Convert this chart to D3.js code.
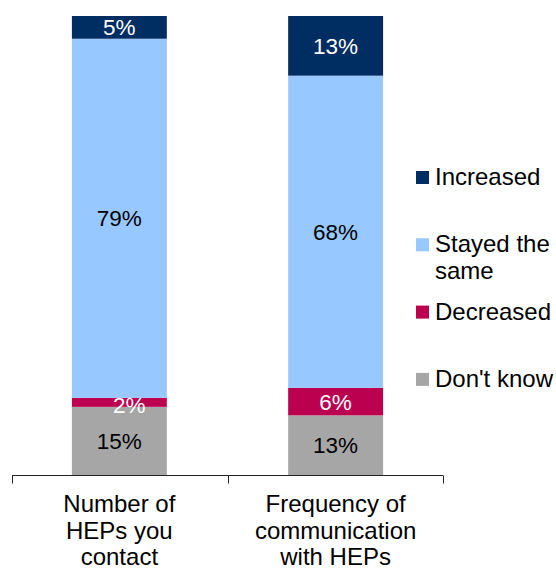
<!DOCTYPE html>
<html>
<head>
<meta charset="utf-8">
<script src="https://cdn.jsdelivr.net/npm/d3@7"></script>
<style>
  html, body { margin: 0; padding: 0; background: #fff; }
  svg { display: block; font-family: "Liberation Sans", Arial, sans-serif; }
</style>
</head>
<body>
<svg id="chart" width="556" height="570"></svg>
<script>
// Survey answers: how things changed
const categories = [["Number of", "HEPs you", "contact"], ["Frequency of", "communication", "with HEPs"]];
const seriesNames = ["Don't know", "Decreased", "Stayed the same", "Increased"];
const dontKnow = [15, 13];
const decreased = [2, 6];
const stayedSame = [79, 68];
const increased = [5, 13];
const legendItems = ["Increased", "Stayed the same", "Decreased", "Don't know"];
const legendLines = { "Stayed the same": ["Stayed the", "same"] };

const colors = {
  "Increased": "#002D62",
  "Stayed the same": "#97C8FF",
  "Decreased": "#BC0050",
  "Don't know": "#A6A6A6"
};
const labelColors = {
  "Increased": "#ffffff",
  "Stayed the same": "#000000",
  "Decreased": "#ffffff",
  "Don't know": "#000000"
};

const svg = d3.select("#chart");
const valueFont = 22.5;
const textFont = 24;

const rows = categories.map((c, i) => ({
  key: c.join(" "),
  lines: c,
  "Don't know": dontKnow[i],
  "Decreased": decreased[i],
  "Stayed the same": stayedSame[i],
  "Increased": increased[i]
}));

// 100% stacked layout
const stack = d3.stack().keys(seriesNames).offset(d3.stackOffsetExpand);
const stacked = stack(rows);

const x = d3.scaleBand()
  .domain(rows.map(d => d.key))
  .range([12, 443])
  .paddingInner(0.561)
  .paddingOuter(0.277);

const y = d3.scaleLinear().domain([0, 1]).range([475, 16]);

const layers = svg.append("g").selectAll("g")
  .data(stacked)
  .join("g")
  .attr("fill", d => colors[d.key]);

layers.selectAll("rect")
  .data(d => d.map(p => Object.assign(p, { series: d.key })))
  .join("rect")
  .attr("x", d => x(d.data.key))
  .attr("width", x.bandwidth())
  .attr("y", d => y(d[1]))
  .attr("height", d => y(d[0]) - y(d[1]));

// value labels in the middle of each segment
layers.selectAll("text")
  .data(d => d)
  .join("text")
  .attr("x", d => {
    const small = (y(d[0]) - y(d[1])) < 14;
    return x(d.data.key) + x.bandwidth() / 2 + (small ? 10 : 0);
  })
  .attr("y", d => (y(d[0]) + y(d[1])) / 2 + (y(d[0]) - y(d[1]) < 14 ? 2.5 : 0))
  .attr("dy", "0.36em")
  .attr("text-anchor", "middle")
  .attr("font-size", valueFont)
  .attr("fill", d => labelColors[d.series])
  .text(d => d.data[d.series] + "%");

// category axis with ticks between categories
const axisG = svg.append("g").attr("stroke", "#222").attr("stroke-width", 1);
const [r0, r1] = x.range();
const step = x.step();
const axisY = y(0) + 0.5;
axisG.append("line").attr("x1", r0).attr("x2", r1).attr("y1", axisY).attr("y2", axisY);
const tickXs = [r0, r0 + x.paddingOuter() * step + x.bandwidth() + x.paddingInner() * step / 2, r1];
tickXs.forEach(tx => {
  axisG.append("line")
    .attr("x1", Math.round(tx) + 0.5).attr("x2", Math.round(tx) + 0.5)
    .attr("y1", axisY).attr("y2", axisY + 8);
});

const catLabels = svg.append("g")
  .selectAll("text")
  .data(rows)
  .join("text")
  .attr("text-anchor", "middle")
  .attr("font-size", textFont)
  .attr("fill", "#000")
  .attr("x", d => x(d.key) + x.bandwidth() / 2)
  .attr("y", 512);
catLabels.selectAll("tspan")
  .data(d => d.lines)
  .join("tspan")
  .attr("x", function () { return d3.select(this.parentNode).attr("x"); })
  .attr("dy", (d, i) => i === 0 ? 0 : 26.5)
  .text(d => d);

// legend
const legend = svg.append("g");
const legendRow = legend.selectAll("g")
  .data(legendItems)
  .join("g")
  .attr("transform", (d, i) => `translate(416, ${185 + i * 67.3})`);
legendRow.append("rect")
  .attr("x", 0).attr("y", -14)
  .attr("width", 13).attr("height", 13)
  .attr("fill", d => colors[d]);
const legendText = legendRow.append("text")
  .attr("x", 19)
  .attr("font-size", textFont)
  .attr("fill", "#000");
legendText.selectAll("tspan")
  .data(d => legendLines[d] || [d])
  .join("tspan")
  .attr("x", 19)
  .attr("dy", (d, i) => i === 0 ? 0 : 26.5)
  .text(d => d);
</script>
</body>
</html>
